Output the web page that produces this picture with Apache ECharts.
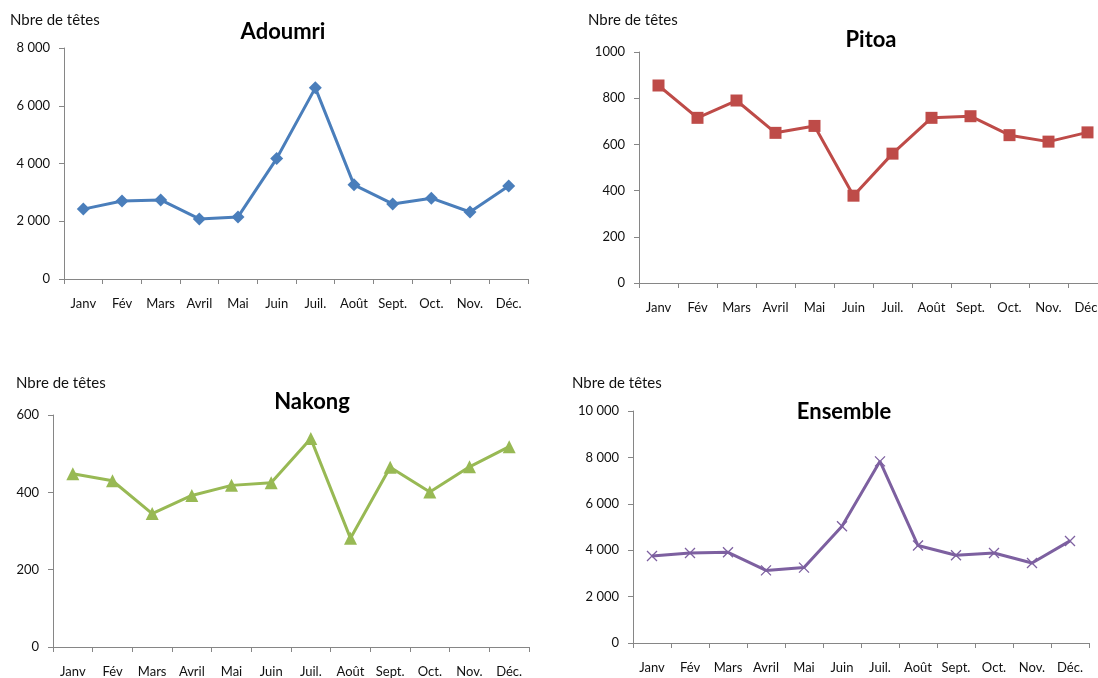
<!DOCTYPE html>
<html><head><meta charset="utf-8">
<script src="https://cdn.jsdelivr.net/npm/echarts@6/dist/echarts.min.js"></script>
<style>html,body{margin:0;padding:0;background:#fff}#c{width:1098px;height:678px}</style>
</head><body><div id="c"></div>
<script>
const months = ['Janv','Fév','Mars','Avril','Mai','Juin','Juil.','Août','Sept.','Oct.','Nov.','Déc.'];
const adoumri = [2420, 2700, 2740, 2080, 2150, 4170, 6620, 3260, 2600, 2800, 2320, 3220];
const pitoa = [855, 715, 790, 650, 680, 378, 560, 715, 722, 640, 612, 652];
const nakong = [448, 430, 345, 392, 418, 425, 539, 281, 465, 401, 466, 518];
const ensemble = [3750, 3880, 3910, 3130, 3250, 5030, 7830, 4200, 3780, 3880, 3450, 4400];
const titles = ['Adoumri', 'Pitoa', 'Nakong', 'Ensemble'];
const yUnit = 'Nbre de têtes';

const FONT = 'Lato, "Open Sans", sans-serif';
const frNum = v => v >= 1000 ? String(v).replace(/\B(?=(\d{3})+(?!\d))/g, ' ') : String(v);
const plainNum = v => String(v);

const panels = [
  {data: adoumri, color: '#4A7EBB', symbol: 'diamond', size: 13, max: 8000, interval: 2000, fmt: frNum,
   grid: {left: 64, top: 48, width: 464, height: 231}, titleX: 283, titleY: 32, unitX: 10, unitY: 20},
  {data: pitoa, color: '#BE4B48', symbol: 'rect', size: 12, max: 1000, interval: 200, fmt: plainNum,
   grid: {left: 639, top: 52, width: 468, height: 231}, titleX: 871, titleY: 40, unitX: 588, unitY: 20},
  {data: nakong, color: '#98B954', symbol: 'triangle', size: 13, max: 600, interval: 200, fmt: plainNum,
   grid: {left: 53, top: 415, width: 476, height: 232}, titleX: 312, titleY: 402, unitX: 16, unitY: 383},
  {data: ensemble, color: '#7D60A0', symbol: 'path://M0,0L10,10M10,0L0,10', size: 10, max: 10000, interval: 2000, fmt: frNum,
   grid: {left: 633, top: 411, width: 456, height: 232}, titleX: 844, titleY: 412, unitX: 572, unitY: 383}
];

const axisCol = '#868686';
const option = {
  animation: false,
  backgroundColor: '#fff',
  grid: panels.map(p => Object.assign({containLabel: false, outerBoundsMode: 'none'}, p.grid)),
  xAxis: panels.map((p, i) => ({
    type: 'category', gridIndex: i, data: months, boundaryGap: true,
    axisLine: {show: true, lineStyle: {color: axisCol, width: 1}},
    axisTick: {show: true, length: 5, lineStyle: {color: axisCol}},
    axisLabel: {color: '#111', fontFamily: FONT, fontSize: 13, margin: 18, interval: 0},
    splitLine: {show: false}
  })),
  yAxis: panels.map((p, i) => ({
    type: 'value', gridIndex: i, min: 0, max: p.max, interval: p.interval,
    axisLine: {show: true, lineStyle: {color: axisCol, width: 1}},
    axisTick: {show: true, length: 5, lineStyle: {color: axisCol}},
    axisLabel: {color: '#111', fontFamily: FONT, fontSize: 13, margin: 14, formatter: p.fmt},
    splitLine: {show: false}
  })),
  series: panels.map((p, i) => ({
    type: 'line', xAxisIndex: i, yAxisIndex: i, data: p.data,
    symbol: p.symbol, symbolSize: p.size, showAllSymbol: true,
    lineStyle: {color: p.color, width: 3},
    itemStyle: {color: p.color, borderColor: p.color, borderWidth: i === 3 ? 1.3 : 0},
    emphasis: {disabled: true}
  })),
  graphic: panels.flatMap((p, i) => [
    {type: 'text', x: p.titleX, y: p.titleY,
     style: {text: titles[i], font: 'bold 22px ' + FONT, fill: '#000', textAlign: 'center', textVerticalAlign: 'middle'}},
    {type: 'text', x: p.unitX, y: p.unitY,
     style: {text: yUnit, font: '15px ' + FONT, fill: '#111', textAlign: 'left', textVerticalAlign: 'middle'}}
  ])
};
const chart = echarts.init(document.getElementById('c'), null, {renderer: 'canvas'});
chart.setOption(option);
</script>
</body></html>
